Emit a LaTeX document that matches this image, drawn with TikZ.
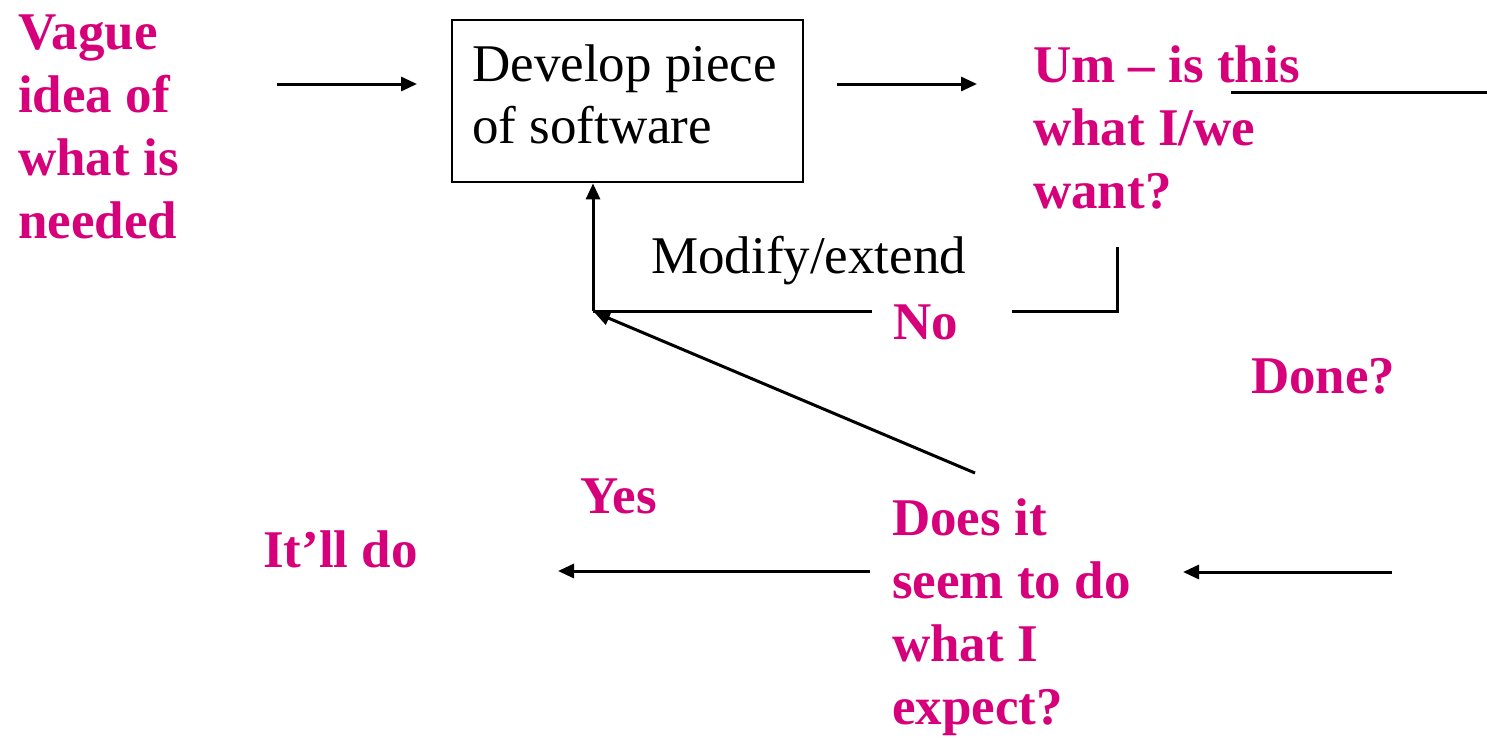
\documentclass[tikz,border=0pt]{standalone}
\usepackage{fontspec}
\setmainfont{Liberation Serif}
\usetikzlibrary{arrows.meta}
\definecolor{pinktxt}{RGB}{213,0,122}
\tikzset{
  lbl/.style={inner sep=0pt, anchor=base west, font=\fontsize{53pt}{63pt}\selectfont\bfseries, text=pinktxt},
  plain/.style={inner sep=0pt, anchor=base west, font=\fontsize{53pt}{62pt}\selectfont, text=black},
  conn/.style={line width=3pt, draw=black},
  arr/.style={conn, -{Triangle[length=16pt,width=14pt]}},
  boxed/.style={draw=black, line width=2.8pt, minimum width=351pt, minimum height=162pt, inner sep=0pt, font=\fontsize{53pt}{62pt}\selectfont}
}
\begin{document}
\begin{tikzpicture}[x=1pt,y=-1pt]
\useasboundingbox (0,0) rectangle (1487,737);
% texts
\node[lbl] (vague) at (18,49) {\vtop{\hbox{Vague}\hbox{idea of}\hbox{what is}\hbox{needed}}};
\node[boxed] (dev) at (627.5,101) {\hbox{\vtop{\hbox{Develop piece}\hbox{of software}\vskip 13pt}\hskip 6pt}};
\node[lbl] (um) at (1033,82) {\vtop{\hbox{Um -- is this}\hbox{what I/we}\hbox{want?}}};
\node[plain] (mod) at (651,273) {Modify/extend};
\node[lbl] (no) at (893,339) {No};
\node[lbl] (done) at (1251,393) {Done?};
\node[lbl] (yes) at (580,513) {Yes};
\node[lbl] (itll) at (263,567) {It’ll do};
\node[lbl] (does) at (892,535) {\vtop{\hbox{Does it}\hbox{seem to do}\hbox{what I}\hbox{expect?}}};
% coordinates
\coordinate (a1s) at (277,84);
\coordinate (a1e) at (417,84);
\coordinate (a2s) at (837,84);
\coordinate (a2e) at (977,84);
\coordinate (ul1) at (1231,92);
\coordinate (ul2) at (1487,92);
\coordinate (corner) at (593,311);
\coordinate (noL) at (872,311);
\coordinate (noR) at (1012,311);
\coordinate (rc) at (1117,311);
\coordinate (rt) at (1117,247);
\coordinate (diagS) at (975,473);
\coordinate (diagE) at (594,312);
\coordinate (b1s) at (870,571);
\coordinate (b1e) at (558,571);
\coordinate (b2s) at (1392,572);
\coordinate (b2e) at (1183,572);
% connectors
\draw[arr] (a1s) -- (a1e);
\draw[arr] (a2s) -- (a2e);
\draw[conn] (ul1) -- (ul2);
\draw[conn] (noL) -- (corner);
\draw[arr] (corner) -- (corner |- dev.south);
\draw[conn] (noR) -- (rc) -- (rt);
\draw[arr] (diagS) -- (diagE);
\draw[arr] (b1s) -- (b1e);
\draw[arr] (b2s) -- (b2e);
\end{tikzpicture}
\end{document}
